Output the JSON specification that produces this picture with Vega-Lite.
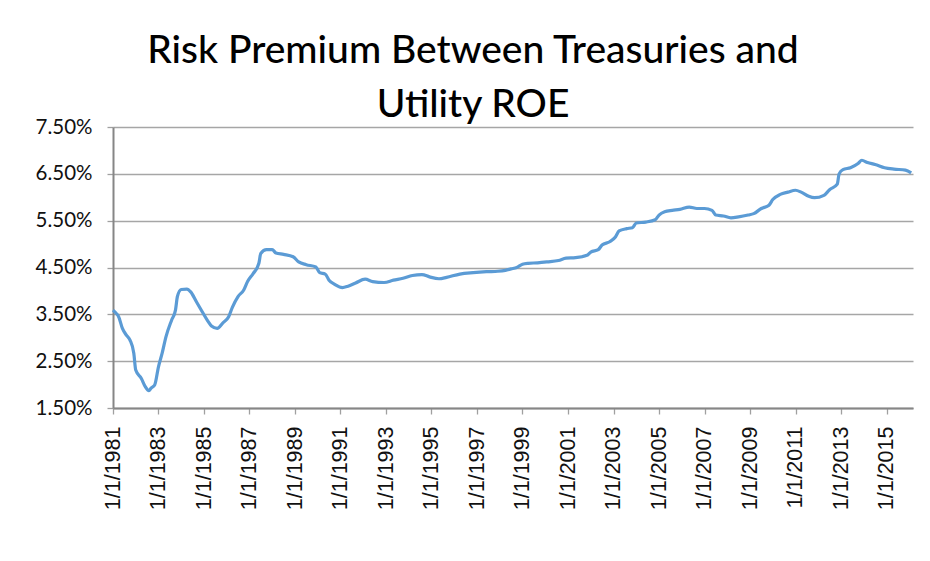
{
  "$schema": "https://vega.github.io/schema/vega-lite/v6.json",
  "width": 800,
  "height": 281,
  "autosize": {"type": "none"},
  "padding": {"left": 113, "top": 127, "right": 17, "bottom": 153},
  "background": "white",
  "title": {
    "text": ["Risk Premium Between Treasuries and", "Utility ROE"],
    "anchor": "middle",
    "dx": -40,
    "offset": -8,
    "font": "Lato",
    "fontSize": 39,
    "fontWeight": 500,
    "color": "#000000",
    "lineHeight": 54
  },
  "config": {
    "view": {"stroke": null},
    "axis": {
      "gridColor": "#a6a6a6",
      "gridWidth": 1.3,
      "domainColor": "#868686",
      "domainWidth": 2,
      "tickColor": "#a0a0a0",
      "tickWidth": 1.3,
      "tickSize": 6,
      "labelColor": "#111111",
      "titleColor": "#000000"
    }
  },
  "data": {
    "values": [
      {"date": "1981-01-01", "value": 3.59},
      {"date": "1981-03-01", "value": 3.51},
      {"date": "1981-04-01", "value": 3.45},
      {"date": "1981-06-01", "value": 3.20},
      {"date": "1981-08-01", "value": 3.06},
      {"date": "1981-10-01", "value": 2.95},
      {"date": "1981-12-01", "value": 2.67},
      {"date": "1982-01-01", "value": 2.31},
      {"date": "1982-04-01", "value": 2.13},
      {"date": "1982-06-01", "value": 1.96},
      {"date": "1982-08-01", "value": 1.87},
      {"date": "1982-09-01", "value": 1.92},
      {"date": "1982-11-01", "value": 1.99},
      {"date": "1983-01-01", "value": 2.38},
      {"date": "1983-03-01", "value": 2.67},
      {"date": "1983-05-01", "value": 3.02},
      {"date": "1983-08-01", "value": 3.38},
      {"date": "1983-10-01", "value": 3.59},
      {"date": "1983-11-01", "value": 3.88},
      {"date": "1984-01-01", "value": 4.03},
      {"date": "1984-04-01", "value": 4.04},
      {"date": "1984-06-01", "value": 3.98},
      {"date": "1984-09-01", "value": 3.77},
      {"date": "1984-12-01", "value": 3.56},
      {"date": "1985-03-01", "value": 3.36},
      {"date": "1985-05-01", "value": 3.25},
      {"date": "1985-08-01", "value": 3.20},
      {"date": "1985-11-01", "value": 3.32},
      {"date": "1986-02-01", "value": 3.45},
      {"date": "1986-04-01", "value": 3.65},
      {"date": "1986-07-01", "value": 3.88},
      {"date": "1986-10-01", "value": 4.02},
      {"date": "1986-12-01", "value": 4.20},
      {"date": "1987-03-01", "value": 4.37},
      {"date": "1987-06-01", "value": 4.59},
      {"date": "1987-07-01", "value": 4.80},
      {"date": "1987-10-01", "value": 4.88},
      {"date": "1988-01-01", "value": 4.88},
      {"date": "1988-03-01", "value": 4.81},
      {"date": "1988-07-01", "value": 4.78},
      {"date": "1988-12-01", "value": 4.73},
      {"date": "1989-03-01", "value": 4.62},
      {"date": "1989-07-01", "value": 4.56},
      {"date": "1989-12-01", "value": 4.51},
      {"date": "1990-02-01", "value": 4.39},
      {"date": "1990-05-01", "value": 4.36},
      {"date": "1990-07-01", "value": 4.23},
      {"date": "1990-10-01", "value": 4.14},
      {"date": "1991-02-01", "value": 4.07},
      {"date": "1991-05-01", "value": 4.10},
      {"date": "1991-09-01", "value": 4.17},
      {"date": "1992-02-01", "value": 4.25},
      {"date": "1992-06-01", "value": 4.20},
      {"date": "1992-12-01", "value": 4.18},
      {"date": "1993-05-01", "value": 4.23},
      {"date": "1993-10-01", "value": 4.27},
      {"date": "1994-03-01", "value": 4.33},
      {"date": "1994-08-01", "value": 4.35},
      {"date": "1994-12-01", "value": 4.30},
      {"date": "1995-05-01", "value": 4.26},
      {"date": "1995-09-01", "value": 4.29},
      {"date": "1996-04-01", "value": 4.36},
      {"date": "1996-11-01", "value": 4.39},
      {"date": "1997-06-01", "value": 4.41},
      {"date": "1997-12-01", "value": 4.42},
      {"date": "1998-04-01", "value": 4.44},
      {"date": "1998-07-01", "value": 4.47},
      {"date": "1998-10-01", "value": 4.50},
      {"date": "1999-01-01", "value": 4.57},
      {"date": "1999-04-01", "value": 4.59},
      {"date": "1999-09-01", "value": 4.60},
      {"date": "2000-02-01", "value": 4.62},
      {"date": "2000-08-01", "value": 4.65},
      {"date": "2000-12-01", "value": 4.70},
      {"date": "2001-05-01", "value": 4.71},
      {"date": "2001-11-01", "value": 4.76},
      {"date": "2002-01-01", "value": 4.83},
      {"date": "2002-05-01", "value": 4.88},
      {"date": "2002-07-01", "value": 4.98},
      {"date": "2002-11-01", "value": 5.05},
      {"date": "2003-02-01", "value": 5.15},
      {"date": "2003-04-01", "value": 5.28},
      {"date": "2003-08-01", "value": 5.33},
      {"date": "2003-11-01", "value": 5.35},
      {"date": "2004-01-01", "value": 5.45},
      {"date": "2004-06-01", "value": 5.47},
      {"date": "2004-11-01", "value": 5.52},
      {"date": "2005-01-01", "value": 5.62},
      {"date": "2005-04-01", "value": 5.69},
      {"date": "2005-08-01", "value": 5.72},
      {"date": "2005-12-01", "value": 5.74},
      {"date": "2006-05-01", "value": 5.79},
      {"date": "2006-09-01", "value": 5.76},
      {"date": "2007-01-01", "value": 5.76},
      {"date": "2007-05-01", "value": 5.72},
      {"date": "2007-07-01", "value": 5.62},
      {"date": "2007-11-01", "value": 5.60},
      {"date": "2008-03-01", "value": 5.56},
      {"date": "2008-07-01", "value": 5.58},
      {"date": "2008-12-01", "value": 5.62},
      {"date": "2009-03-01", "value": 5.65},
      {"date": "2009-07-01", "value": 5.76},
      {"date": "2009-11-01", "value": 5.83},
      {"date": "2010-01-01", "value": 5.95},
      {"date": "2010-05-01", "value": 6.06},
      {"date": "2010-09-01", "value": 6.11},
      {"date": "2011-01-01", "value": 6.15},
      {"date": "2011-04-01", "value": 6.11},
      {"date": "2011-08-01", "value": 6.02},
      {"date": "2011-11-01", "value": 5.99},
      {"date": "2012-04-01", "value": 6.04},
      {"date": "2012-07-01", "value": 6.16},
      {"date": "2012-11-01", "value": 6.28},
      {"date": "2012-12-01", "value": 6.50},
      {"date": "2013-02-01", "value": 6.59},
      {"date": "2013-06-01", "value": 6.63},
      {"date": "2013-10-01", "value": 6.72},
      {"date": "2013-12-01", "value": 6.79},
      {"date": "2014-03-01", "value": 6.74},
      {"date": "2014-07-01", "value": 6.70},
      {"date": "2014-12-01", "value": 6.63},
      {"date": "2015-05-01", "value": 6.60},
      {"date": "2015-11-01", "value": 6.58},
      {"date": "2016-02-01", "value": 6.52}
    ]
  },
  "mark": {"type": "line", "color": "#5b9bd5", "strokeWidth": 3.2, "interpolate": "monotone"},
  "encoding": {
    "x": {
      "field": "date",
      "type": "temporal",
      "title": null,
      "scale": {
        "type": "utc",
        "domain": [
          {"year": 1981, "month": 1, "date": 1, "utc": true},
          {"year": 2016, "month": 3, "date": 1, "utc": true}
        ]
      },
      "axis": {
        "grid": false,
        "values": [
          {"year": 1981, "month": 1, "date": 1, "utc": true},
          {"year": 1983, "month": 1, "date": 1, "utc": true},
          {"year": 1985, "month": 1, "date": 1, "utc": true},
          {"year": 1987, "month": 1, "date": 1, "utc": true},
          {"year": 1989, "month": 1, "date": 1, "utc": true},
          {"year": 1991, "month": 1, "date": 1, "utc": true},
          {"year": 1993, "month": 1, "date": 1, "utc": true},
          {"year": 1995, "month": 1, "date": 1, "utc": true},
          {"year": 1997, "month": 1, "date": 1, "utc": true},
          {"year": 1999, "month": 1, "date": 1, "utc": true},
          {"year": 2001, "month": 1, "date": 1, "utc": true},
          {"year": 2003, "month": 1, "date": 1, "utc": true},
          {"year": 2005, "month": 1, "date": 1, "utc": true},
          {"year": 2007, "month": 1, "date": 1, "utc": true},
          {"year": 2009, "month": 1, "date": 1, "utc": true},
          {"year": 2011, "month": 1, "date": 1, "utc": true},
          {"year": 2013, "month": 1, "date": 1, "utc": true},
          {"year": 2015, "month": 1, "date": 1, "utc": true}
        ],
        "format": "%-m/%-d/%Y",
        "labelAngle": -90,
        "labelFont": "Liberation Sans",
        "labelFontSize": 21.5,
        "labelPadding": 12,
        "labelOverlap": false,
        "labelFlush": false
      }
    },
    "y": {
      "field": "value",
      "type": "quantitative",
      "title": null,
      "scale": {"domain": [1.5, 7.5], "nice": false, "zero": false},
      "axis": {
        "values": [1.5, 2.5, 3.5, 4.5, 5.5, 6.5, 7.5],
        "labelExpr": "format(datum.value, '.2f') + '%'",
        "labelFont": "Lato",
        "labelFontSize": 20.5,
        "labelPadding": 15,
        "labelFlush": false,
        "labelOverlap": false
      }
    }
  }
}
